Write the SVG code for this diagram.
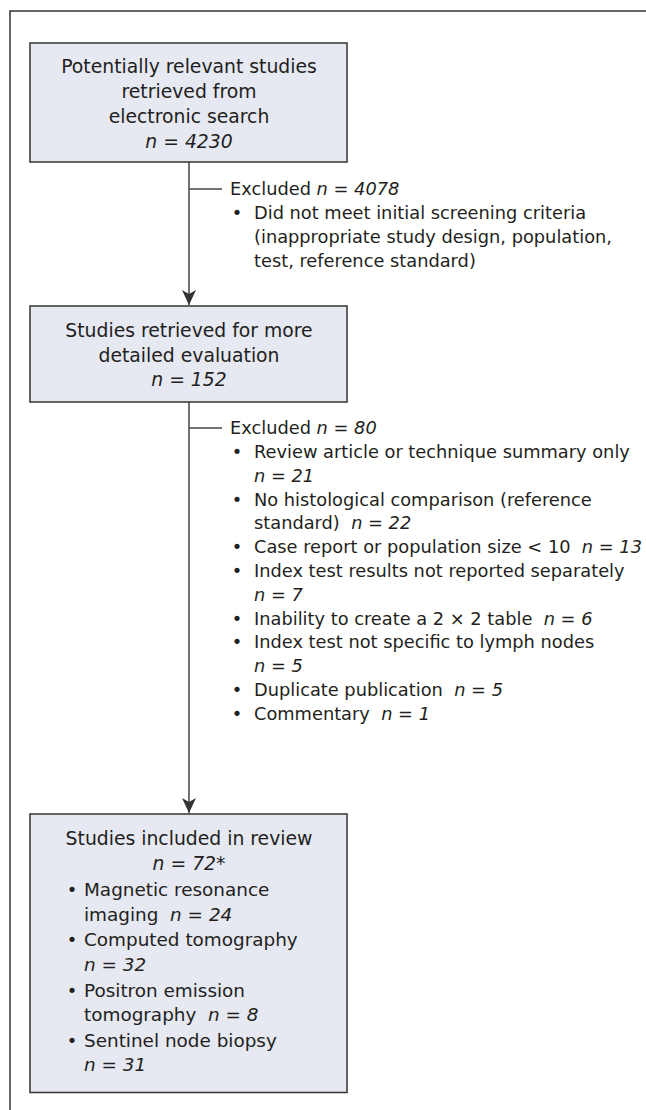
<svg xmlns="http://www.w3.org/2000/svg" width="646" height="1110" viewBox="0 0 646 1110">
<style>
text { font-family: "DejaVu Sans", "Liberation Sans", sans-serif; fill: #231f20; }
.t { font-size: 18.8px; text-anchor: middle; }
.l { font-size: 17.8px; }
.b { font-size: 18.4px; }
.bl { font-size: 17.8px; text-anchor: middle; }
.i { font-style: italic; }
.box { fill: #e6e8f2; stroke: #333333; stroke-width: 1.5; }
.con { stroke: #444444; stroke-width: 1.5; fill: none; }
.frame { fill: none; stroke: #333333; stroke-width: 1.5; }
</style>
<defs>
<marker id="arrow" viewBox="0 0 16 14" refX="15" refY="7" markerWidth="16" markerHeight="14" markerUnits="userSpaceOnUse" orient="auto">
<path d="M0,0 L15,7 L0,14 L4,7 Z" fill="#333333"/>
</marker>
</defs>
<rect class="frame" x="10" y="11" width="700" height="1200"/>
<g id="connectors">
<path class="con" d="M189,162 V305" marker-end="url(#arrow)"/>
<path class="con" d="M189,189 H222"/>
<path class="con" d="M189,402 V813" marker-end="url(#arrow)"/>
<path class="con" d="M189,428 H222"/>
</g>
<g id="node-search">
<rect class="box" x="30" y="43" width="317" height="119"/>
<text class="t" x="189" y="73">Potentially relevant studies</text>
<text class="t" x="189" y="98">retrieved from</text>
<text class="t" x="189" y="123">electronic search</text>
<text class="t" x="189" y="148"><tspan class="i">n</tspan> = <tspan class="i">4230</tspan></text>
</g>
<g id="node-excluded1">
<text class="l" x="230" y="195">Excluded <tspan class="i">n</tspan> = <tspan class="i">4078</tspan></text>
<text class="bl" x="237" y="219">•</text>
<text class="l" x="254" y="219">Did not meet initial screening criteria</text>
<text class="l" x="254" y="243">(inappropriate study design, population,</text>
<text class="l" x="254" y="266.5">test, reference standard)</text>
</g>
<g id="node-retrieved">
<rect class="box" x="30" y="306" width="317" height="96"/>
<text class="t" x="189" y="337">Studies retrieved for more</text>
<text class="t" x="189" y="361.5">detailed evaluation</text>
<text class="t" x="189" y="385.5"><tspan class="i">n</tspan> = <tspan class="i">152</tspan></text>
</g>
<g id="node-excluded2">
<text class="l" x="230" y="434">Excluded <tspan class="i">n</tspan> = <tspan class="i">80</tspan></text>
<text class="bl" x="237" y="458">•</text>
<text class="l" x="254" y="458">Review article or technique summary only</text>
<text class="l" x="254" y="481.7"><tspan class="i">n</tspan> = <tspan class="i">21</tspan></text>
<text class="bl" x="237" y="505.5">•</text>
<text class="l" x="254" y="505.5">No histological comparison (reference</text>
<text class="l" x="254" y="529.3" xml:space="preserve">standard)  <tspan class="i">n</tspan> = <tspan class="i">22</tspan></text>
<text class="bl" x="237" y="553.1">•</text>
<text class="l" x="254" y="553.1" xml:space="preserve">Case report or population size &lt; 10  <tspan class="i">n</tspan> = <tspan class="i">13</tspan></text>
<text class="bl" x="237" y="576.9">•</text>
<text class="l" x="254" y="576.9">Index test results not reported separately</text>
<text class="l" x="254" y="600.7"><tspan class="i">n</tspan> = <tspan class="i">7</tspan></text>
<text class="bl" x="237" y="624.5">•</text>
<text class="l" x="254" y="624.5" xml:space="preserve">Inability to create a 2 × 2 table  <tspan class="i">n</tspan> = <tspan class="i">6</tspan></text>
<text class="bl" x="237" y="648.3">•</text>
<text class="l" x="254" y="648.3">Index test not specific to lymph nodes</text>
<text class="l" x="254" y="672.1"><tspan class="i">n</tspan> = <tspan class="i">5</tspan></text>
<text class="bl" x="237" y="695.9">•</text>
<text class="l" x="254" y="695.9" xml:space="preserve">Duplicate publication  <tspan class="i">n</tspan> = <tspan class="i">5</tspan></text>
<text class="bl" x="237" y="719.7">•</text>
<text class="l" x="254" y="719.7" xml:space="preserve">Commentary  <tspan class="i">n</tspan> = <tspan class="i">1</tspan></text>
</g>
<g id="node-included">
<rect class="box" x="30" y="814" width="317" height="278.5"/>
<text class="t" x="189" y="845">Studies included in review</text>
<text class="t" x="189" y="869.5"><tspan class="i">n</tspan> = <tspan class="i">72</tspan>*</text>
<text class="bl" x="72" y="896">•</text>
<text class="b" x="84" y="896">Magnetic resonance</text>
<text class="b" x="84" y="920.5" xml:space="preserve">imaging  <tspan class="i">n</tspan> = <tspan class="i">24</tspan></text>
<text class="bl" x="72" y="946">•</text>
<text class="b" x="84" y="946">Computed tomography</text>
<text class="b" x="84" y="970.5"><tspan class="i">n</tspan> = <tspan class="i">32</tspan></text>
<text class="bl" x="72" y="996.5">•</text>
<text class="b" x="84" y="996.5">Positron emission</text>
<text class="b" x="84" y="1021" xml:space="preserve">tomography  <tspan class="i">n</tspan> = <tspan class="i">8</tspan></text>
<text class="bl" x="72" y="1046.5">•</text>
<text class="b" x="84" y="1046.5">Sentinel node biopsy</text>
<text class="b" x="84" y="1071"><tspan class="i">n</tspan> = <tspan class="i">31</tspan></text>
</g>
</svg>
